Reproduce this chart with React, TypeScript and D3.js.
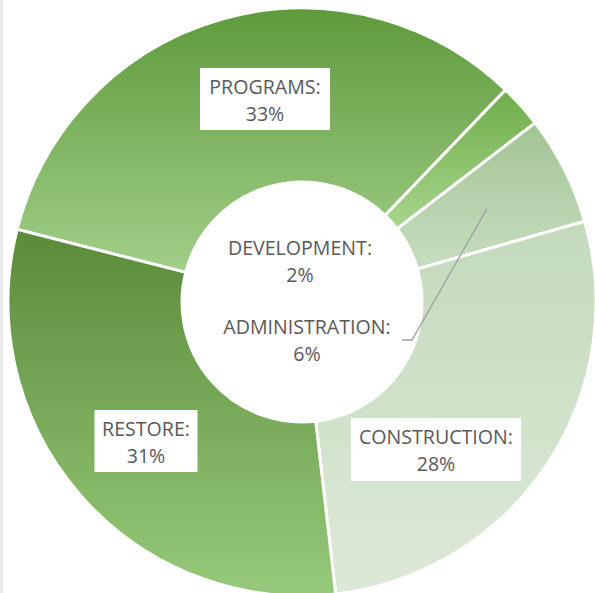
import React from "react";
import * as d3 from "d3";

const categories = ["PROGRAMS", "DEVELOPMENT", "ADMINISTRATION", "CONSTRUCTION", "RESTORE"];
const values = [33.2, 2.4, 6.0, 27.6, 30.8];
const topColors = ["#5e9a3a", "#6dad47", "#a2c494", "#c3dabb", "#5a8b39"];
const bottomColors = ["#a2cf8a", "#a9d58f", "#c8ddc0", "#dde9d8", "#96c979"];

const W = 595;
const H = 593;
const cx = 302;
const cy = 302;
const outerR = 294;
const innerR = 120;
const startDeg = -75.7;

// label placements (box centre / text lines)
const labelPos: Record<string, { x: number; y: number; box: [number, number] | null }> = {
  PROGRAMS: { x: 265, y: 94, box: [130, 62] },
  DEVELOPMENT: { x: 300, y: 255, box: null },
  ADMINISTRATION: { x: 307, y: 334, box: null },
  CONSTRUCTION: { x: 436, y: 444, box: [170, 63] },
  RESTORE: { x: 146, y: 436, box: [103, 62] },
};

export default function App() {
  const total = d3.sum(values);
  const pie = d3
    .pie<number>()
    .sort(null)
    .value((d) => d)
    .startAngle((startDeg * Math.PI) / 180)
    .endAngle((startDeg * Math.PI) / 180 + 2 * Math.PI);
  const arcs = pie(values);
  const arc = d3.arc<d3.PieArcDatum<number>>().innerRadius(innerR).outerRadius(outerR);

  const adminArc = arcs[2];
  const adminMid = (adminArc.startAngle + adminArc.endAngle) / 2;
  const leaderR = 207;
  const lx = cx + Math.sin(adminMid) * leaderR;
  const ly = cy - Math.cos(adminMid) * leaderR;

  const font = "'Open Sans', sans-serif";
  const fs = 19.6;
  const lineGap = 27;

  return (
    <svg width={W} height={H} style={{ position: "absolute", left: 0, top: 0 }}>
      <defs>
        {categories.map((c, i) => (
          <linearGradient key={c} id={`g${i}`} x1="0" y1="0" x2="0" y2="1">
            <stop offset="0" stopColor={topColors[i]} />
            <stop offset="1" stopColor={bottomColors[i]} />
          </linearGradient>
        ))}
      </defs>
      <rect x={0} y={0} width={W} height={H} fill="#ffffff" />
      <rect x={0} y={0} width={3} height={H} fill="#ebebeb" />
      <g transform={`translate(${cx},${cy})`}>
        {arcs.map((a, i) => (
          <path key={categories[i]} d={arc(a) || ""} fill={`url(#g${i})`} stroke="#ffffff" strokeWidth={3} />
        ))}
      </g>
      <polyline
        points={`402,340 412,340 ${lx},${ly}`}
        fill="none"
        stroke="#a0a0a0"
        strokeWidth={1.3}
      />
      {categories.map((c, i) => {
        const p = labelPos[c];
        const pct = Math.round((values[i] / total) * 100);
        return (
          <g key={c}>
            {p.box && (
              <rect
                x={p.x - p.box[0] / 2}
                y={p.y - 26}
                width={p.box[0]}
                height={p.box[1]}
                fill="#ffffff"
              />
            )}
            <text x={p.x} y={p.y} textAnchor="middle" fontFamily={font} fontSize={fs} fill="#595959">
              {c}:
            </text>
            <text x={p.x} y={p.y + lineGap} textAnchor="middle" fontFamily={font} fontSize={fs} fill="#595959">
              {pct}%
            </text>
          </g>
        );
      })}
    </svg>
  );
}
